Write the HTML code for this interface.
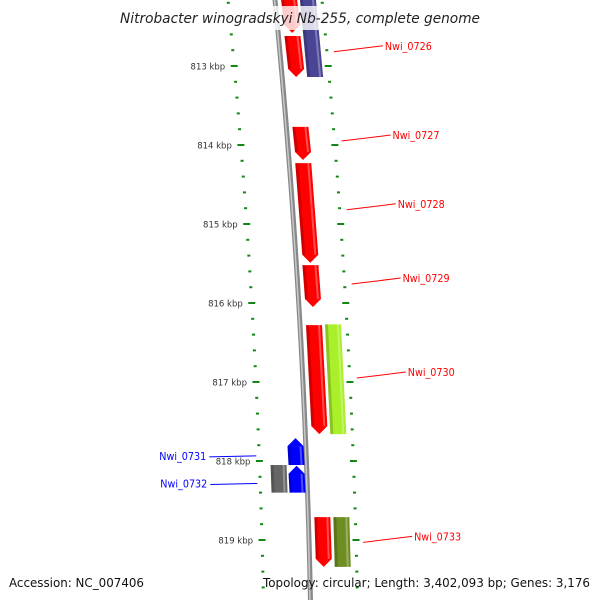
<!DOCTYPE html>
<html><head><meta charset="utf-8"><style>
html,body{margin:0;padding:0;background:#fff;}
svg{display:block;font-family:"DejaVu Sans","Liberation Sans",sans-serif;}
</style></head><body>
<svg id="map" width="600" height="600" viewBox="0 0 600 600" xmlns="http://www.w3.org/2000/svg">
<g id="ticks"></g>
<g id="backbone"></g>
<g id="genes"></g>
<g id="labels"></g>
<rect x="115" y="6" width="370" height="24" fill="#fff" opacity="0.8"/>
<text x="120" y="23" textLength="360" lengthAdjust="spacingAndGlyphs" font-size="14.5" font-style="italic" fill="#222">Nitrobacter winogradskyi Nb-255, complete genome</text>
<text x="9" y="587" textLength="135" lengthAdjust="spacingAndGlyphs" font-size="12.5" fill="#111">Accession: NC_007406</text>
<text x="263" y="587" textLength="327" lengthAdjust="spacingAndGlyphs" font-size="12.5" fill="#111">Topology: circular; Length: 3,402,093 bp; Genes: 3,176</text>
</svg>
<script>
const geneNames = ["g-top","g-0726","g-purple","Nwi_0727","Nwi_0728","Nwi_0729","Nwi_0730","Nwi_0730b","Nwi_0731","Nwi_0732","Nwi_0732g","Nwi_0733","Nwi_0733b"];
const geneStart = [812.10,812.62,812.10,813.77,814.23,815.52,816.28,816.27,817.71,818.06,818.05,818.71,818.71];
const geneEnd   = [812.58,813.14,813.14,814.19,815.49,816.05,817.66,817.66,818.05,818.40,818.40,819.34,819.34];
const geneLane  = [1,1,2,1,1,1,1,2,-1,-1,-2,1,2];
const geneStrand= [1,1,0,1,1,1,1,0,-1,-1,0,1,0];
const geneColor = ["#ff0000","#ff0000","#4a4494","#ff0000","#ff0000","#ff0000","#ff0000","#aaf02a","#0000ff","#0000ff","#666666","#ff0000","#6e8e22"];
const majorTicks = [813,814,815,816,817,818,819];
const labelText = ["Nwi_0726","Nwi_0727","Nwi_0728","Nwi_0729","Nwi_0730","Nwi_0731","Nwi_0732","Nwi_0733"];
const labelPos  = [812.82,813.95,814.82,815.76,816.95,817.96,818.31,819.03];
const labelSide = [1,1,1,1,1,-1,-1,1];
const labelColor= ["#ff0000","#ff0000","#ff0000","#ff0000","#ff0000","#0000ff","#0000ff","#ff0000"];

const NS="http://www.w3.org/2000/svg";
function yOf(k){return 66+(k-813)*79;}
function lane1(y){return 289+0.098*y-6.48e-5*y*y;}
function laneX(l,y){return lane1(y)+(l>0?(l-1)*19:(l===-1?-24:-42));}
function mk(tag,attrs,parent){const e=document.createElementNS(NS,tag);for(const k in attrs)e.setAttribute(k,attrs[k]);parent.appendChild(e);return e;}
function curve(off,y0,y1){let d='';for(let y=y0;y<=y1;y+=10){d+=(d?' L':'M')+(lane1(y)+off).toFixed(2)+','+y;}return d;}

// backbone
const bb=document.getElementById('backbone');
const bbLine=mk('path',{d:curve(-14,-10,610),stroke:'#888',"stroke-width":5,fill:'none'},bb);


mk('path',{d:curve(-14.5,-10,610),stroke:'#c8c8c8',"stroke-width":1.5,fill:'none'},bb);

// ticks
const tg=document.getElementById('ticks');
for(let k=812;k<=819.8;k+=0.2){
  const kk=Math.round(k*10)/10;const y=yOf(kk);if(y<-5||y>600)continue;
  const major=Math.abs(kk-Math.round(kk))<0.01;
  [-61,33].forEach(off=>{
    const x=lane1(y)+off;const w=major?7:3;
    const t=mk('rect',{x:x-w/2,y:y-1,width:w,height:2,fill:'#118811'},tg);
    
    
  });
}
majorTicks.forEach(k=>{
  const y=yOf(k);
  const t=mk('text',{x:lane1(y)-70,y:y+3.5,"font-size":8.5,"text-anchor":'end',fill:'#333'},tg);
  t.textContent=k+' kbp';
  
  
});

// genes
const gg=document.getElementById('genes');
geneNames.forEach((n,i)=>{
  const y0=yOf(geneStart[i]),y1=yOf(geneEnd[i]);
  const w=16,ah=8,s=geneStrand[i];
  const xa=laneX(geneLane[i],y0),xb=laneX(geneLane[i],y1);
  let pts;
  if(s===1){pts=[[xa-w/2,y0],[xa+w/2,y0],[xb+w/2,y1-ah],[xb,y1],[xb-w/2,y1-ah]];}
  else if(s===-1){pts=[[xa,y0],[xa+w/2,y0+ah],[xb+w/2,y1],[xb-w/2,y1],[xa-w/2,y0+ah]];}
  else{pts=[[xa-w/2,y0],[xa+w/2,y0],[xb+w/2,y1],[xb-w/2,y1]];}
  const p=mk('polygon',{points:pts.map(q=>q.join(',')).join(' '),fill:geneColor[i]},gg);
  
  
  const ya=y0+(s===-1?ah:0), yb=y1-(s===1?ah:0);
  mk('polygon',{points:`${xa-w/2},${ya} ${xa-w/2+3},${ya} ${xb-w/2+3},${yb} ${xb-w/2},${yb}`,fill:'#000',opacity:0.18},gg);
  mk('polygon',{points:`${xa+w/2-4},${ya} ${xa+w/2-2},${ya} ${xb+w/2-2},${yb} ${xb+w/2-4},${yb}`,fill:'#fff',opacity:0.3},gg);
});

// labels
const lg=document.getElementById('labels');
labelText.forEach((t,i)=>{
  const y=yOf(labelPos[i]);
  let x1,x2,tx,anchor;
  if(labelSide[i]===1){x1=lane1(y)+40;x2=x1+49;tx=x2+2;anchor='start';}
  else{x2=lane1(y)-64;x1=x2-47;tx=x1-3;anchor='end';}
  const ln=mk('line',{x1:x1,y1:labelSide[i]===1?y:y-1,x2:x2,y2:labelSide[i]===1?y-6:y-2,stroke:labelColor[i],"stroke-width":1},lg);
  
  
  const tt=mk('text',{x:tx,y:labelSide[i]===1?y-2:y+2,"font-size":10.5,"text-anchor":anchor,textLength:47,lengthAdjust:'spacingAndGlyphs',fill:labelColor[i]},lg);
  tt.textContent=t;
  
  
});
</script>
</body></html>
